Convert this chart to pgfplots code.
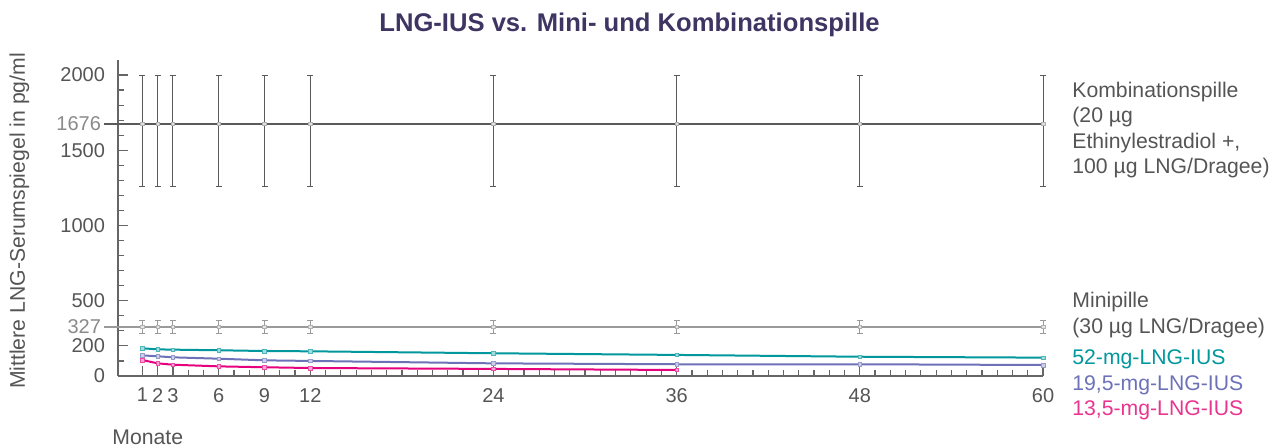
\documentclass[border=0pt]{standalone}
\usepackage{pgfplots}
\pgfplotsset{compat=1.18}
\usepackage{pgfplotstable}
\usepackage{fontspec}
\setmainfont{Liberation Sans}
\definecolor{titlec}{HTML}{3E3563}
\definecolor{txt}{HTML}{555555}
\definecolor{axisc}{HTML}{666666}
\definecolor{kombic}{HTML}{5A5A5A}
\definecolor{minic}{HTML}{9A9A9A}
\definecolor{extrac}{HTML}{8A8A8A}
\definecolor{iusA}{HTML}{00979D}
\definecolor{iusB}{HTML}{6C71B8}
\definecolor{iusC}{HTML}{E6007E}
\definecolor{iusCtxt}{HTML}{E8358F}

\pgfplotstableread{
x y ep em
1 1676 320 420
2 1676 320 420
3 1676 320 420
6 1676 320 420
9 1676 320 420
12 1676 320 420
24 1676 320 420
36 1676 320 420
48 1676 320 420
60 1676 320 420
}\kombitab

\pgfplotstableread{
x y ep em
1 327 45 45
2 327 45 45
3 327 45 45
6 327 45 45
9 327 45 45
12 327 45 45
24 327 45 45
36 327 45 45
48 327 45 45
60 327 45 45
}\minitab

\pgfplotstableread{
x y
1 184
2 177
3 175
6 171
9 166
12 164
24 151
36 140
48 128
60 122
}\iusAtab

\pgfplotstableread{
x y
1 137
2 131
3 124
6 115
9 104
12 100
24 84
36 78
48 78
60 73
}\iusBtab

\pgfplotstableread{
x y
1 106
2 84
3 75
6 64
9 58
12 53
24 47
36 40
}\iusCtab

\begin{document}
\begin{tikzpicture}
\useasboundingbox (0,0) rectangle (637.5pt,224pt);
\begin{axis}[
  at={(59pt,36pt)}, anchor=south west,
  scale only axis, width=462.5pt, height=158pt,
  xmin=-0.6, xmax=60, ymin=0, ymax=2100,
  axis x line*=bottom, axis y line*=left,
  axis line style={draw=axisc, line width=0.75pt},
  xtick={1,2,3,6,9,12,24,36,48,60},
  minor xtick={1,...,60},
  ytick={0,200,500,1000,1500,2000},
  minor ytick={100,200,...,2000},
  tick align=inside,
  major tick length=5pt, minor tick length=3pt,
  tick style={draw=axisc, line width=0.6pt},
  ticklabel style={font=\fontsize{10}{12}\selectfont, text=txt},
  yticklabel style={xshift=-3pt},
  xticklabel style={yshift=-2.5pt},
  /pgf/number format/assume math mode=true,
  /pgf/number format/1000 sep={},
  extra y ticks={327,1676},
  extra y tick labels={327,1676},
  extra y tick style={major tick length=0pt, yticklabel style={font=\fontsize{10}{12}\selectfont, text=extrac, xshift=-2pt}},
  clip=false,
]
\addplot[iusA, line width=1pt, mark=square*, mark size=0.9pt, mark options={fill=iusA!35, draw=iusA!70, line width=0.3pt}] table {\iusAtab};
\addplot[iusB, line width=1pt, mark=square*, mark size=0.9pt, mark options={fill=iusB!35, draw=iusB!70, line width=0.3pt}] table {\iusBtab};
\addplot[iusC, line width=1pt, mark=square*, mark size=0.9pt, mark options={fill=iusC!35, draw=iusC!70, line width=0.3pt}] table {\iusCtab};

\addplot[minic, line width=0.9pt, forget plot] coordinates {(-1.5,327) (1,327)};
\addplot[minic, line width=0.9pt, mark=square*, mark size=0.9pt, mark options={fill=gray!20, draw=gray!60, line width=0.3pt},
  error bars/.cd, y dir=both, y explicit,
  error bar style={line width=0.5pt, minic},
  error mark options={rotate=90, mark size=1.5pt, line width=0.5pt, minic}]
  table[x=x, y=y, y error plus=ep, y error minus=em] {\minitab};

\addplot[kombic, line width=0.9pt, forget plot] coordinates {(-1.5,1676) (1,1676)};
\addplot[kombic, line width=0.9pt, mark=square*, mark size=0.9pt, mark options={fill=gray!25, draw=gray!60, line width=0.3pt},
  error bars/.cd, y dir=both, y explicit,
  error bar style={line width=0.5pt, kombic},
  error mark options={rotate=90, mark size=1.5pt, line width=0.5pt, kombic}]
  table[x=x, y=y, y error plus=ep, y error minus=em] {\kombitab};
\end{axis}

% title
\node[anchor=base, inner sep=0, text=titlec, font=\fontsize{12.8}{15}\selectfont\bfseries] at (314.75pt,208pt) {LNG-IUS vs. Mini- und Kombinationspille};
% y label
\node[anchor=base, rotate=90, inner sep=0, text=txt, font=\fontsize{10.6}{12}\selectfont] at (12.5pt,113.5pt) {Mittlere LNG-Serumspiegel in pg/ml};
% x label
\node[anchor=base west, inner sep=0, text=txt, font=\fontsize{10.6}{12}\selectfont] at (56pt,1.5pt) {Monate};
% right labels
\begin{scope}[every node/.style={anchor=base west, inner sep=0, font=\fontsize{10.6}{12.75}\selectfont}]
\node[text=txt] at (536pt,175.35pt) {Kombinationspille};
\node[text=txt] at (536pt,162.65pt) {(20 µg};
\node[text=txt] at (536pt,149.85pt) {Ethinylestradiol +,};
\node[text=txt] at (536pt,137.15pt) {100 µg LNG/Dragee)};
\node[text=txt] at (536pt,70pt) {Minipille};
\node[text=txt] at (536pt,57pt) {(30 µg LNG/Dragee)};
\node[text=iusA] at (536pt,41.5pt) {52-mg-LNG-IUS};
\node[text=iusB] at (536pt,28.75pt) {19,5-mg-LNG-IUS};
\node[text=iusCtxt] at (536pt,16pt) {13,5-mg-LNG-IUS};
\end{scope}
\end{tikzpicture}
\end{document}
